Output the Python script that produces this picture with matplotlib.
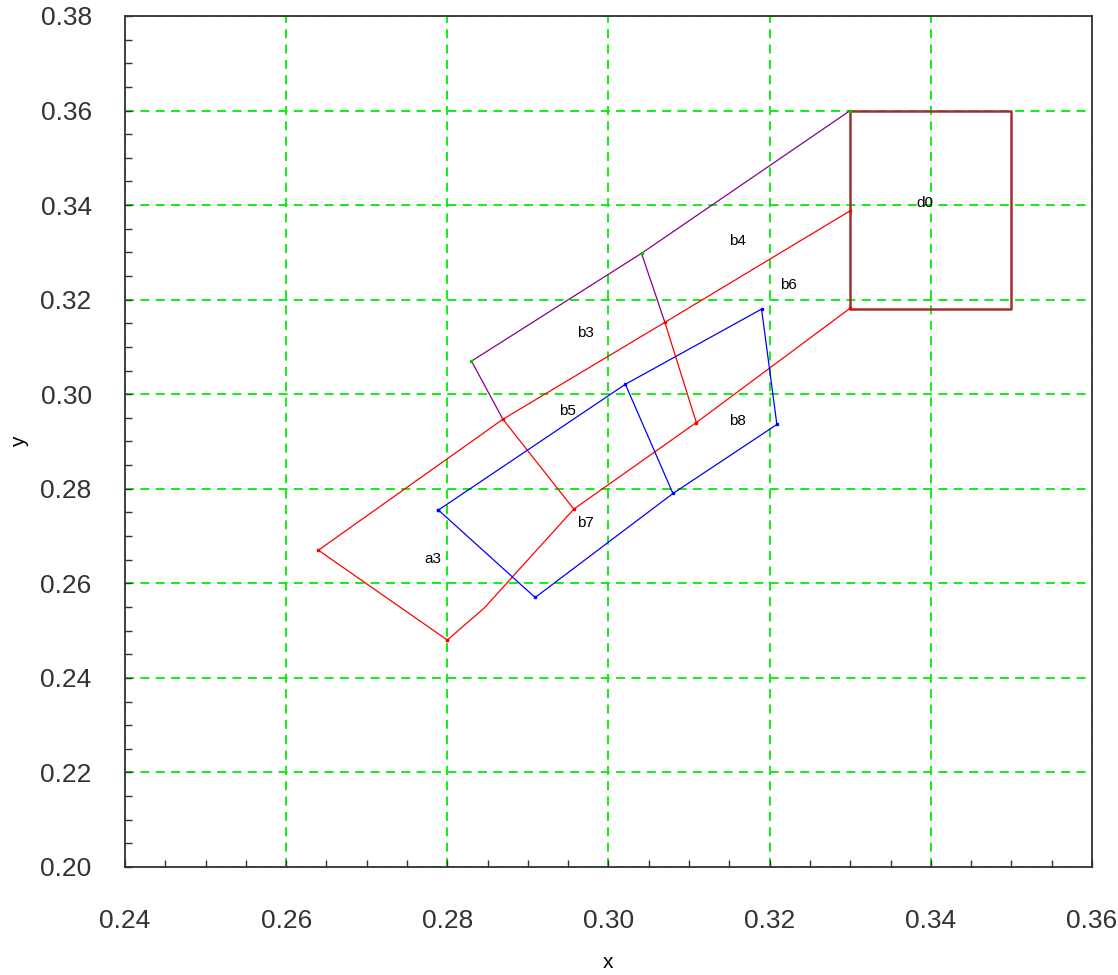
import numpy as np
import matplotlib.pyplot as plt
from matplotlib.ticker import MultipleLocator

# ---- data ----
# d0 box
d0_x = [0.330, 0.350, 0.350, 0.330, 0.330]
d0_y = [0.360, 0.360, 0.318, 0.318, 0.360]

# purple outline (top edge + cross line)
pur_x = [0.2869, 0.2830, 0.3041, 0.3300]
pur_y = [0.2947, 0.3070, 0.3298, 0.3600]
pur2_x = [0.3041, 0.3070]
pur2_y = [0.3298, 0.3152]

# red outline
red_top_x = [0.3300, 0.3070, 0.2869, 0.2640, 0.2800]
red_top_y = [0.3388, 0.3152, 0.2947, 0.2670, 0.2480]
red_bot_x = [0.2800, 0.2846, 0.2957, 0.3109, 0.3300]
red_bot_y = [0.2480, 0.2548, 0.2757, 0.2940, 0.3182]
red_c1_x = [0.3070, 0.3109]
red_c1_y = [0.3152, 0.2940]
red_c2_x = [0.2869, 0.2957]
red_c2_y = [0.2947, 0.2757]

# blue outline
blue_x = [0.2789, 0.3021, 0.3190, 0.3209, 0.3080, 0.2909, 0.2789]
blue_y = [0.2755, 0.3021, 0.3180, 0.2936, 0.2790, 0.2570, 0.2755]
blue_c_x = [0.3021, 0.3080]
blue_c_y = [0.3021, 0.2790]

# region labels
lab_txt = ["b3", "b4", "b5", "b6", "b7", "b8", "a3", "d0"]
lab_x = [0.2971, 0.3160, 0.2949, 0.3224, 0.2971, 0.3160, 0.2782, 0.3393]
lab_y = [0.3129, 0.3324, 0.2965, 0.3231, 0.2728, 0.2943, 0.2651, 0.3404]

plt.rcParams['font.family'] = ['Liberation Sans', 'DejaVu Sans']

fig = plt.figure(figsize=(11.18, 9.75), dpi=100)
ax = fig.add_axes([0.1118, 0.1108, 0.8649, 0.8728])

ax.grid(True, which='major', color='#00ee00', linestyle=(0, (5, 3.5)), linewidth=1.3)
ax.set_axisbelow(True)

lw = 0.9
ax.plot(d0_x, d0_y, color='#993333', lw=1.8)
ax.plot(pur_x, pur_y, color='#880088', lw=lw)
ax.plot(pur2_x, pur2_y, color='#880088', lw=lw)
for xs, ys in [(red_top_x, red_top_y), (red_bot_x, red_bot_y),
               (red_c1_x, red_c1_y), (red_c2_x, red_c2_y)]:
    ax.plot(xs, ys, color='#ff0000', lw=lw)
ax.plot(blue_x, blue_y, color='#0000ff', lw=lw)
ax.plot(blue_c_x, blue_c_y, color='#0000ff', lw=lw)

# small vertex dots
ax.plot(pur_x[1:], pur_y[1:], ls='none', marker='s', ms=2, color='#00cc00')
ax.plot(red_top_x, red_top_y, ls='none', marker='s', ms=2, color='#ff0000')
ax.plot([red_bot_x[i] for i in (0, 2, 3, 4)], [red_bot_y[i] for i in (0, 2, 3, 4)],
        ls='none', marker='s', ms=2, color='#ff0000')
ax.plot(blue_x, blue_y, ls='none', marker='s', ms=2, color='#0000ff')

for t, x, y in zip(lab_txt, lab_x, lab_y):
    ax.text(x, y, t, fontsize=11, ha='center', va='center', color='black')

ax.set_xlim(0.24, 0.36)
ax.set_ylim(0.20, 0.38)
ax.xaxis.set_major_locator(MultipleLocator(0.02))
ax.xaxis.set_minor_locator(MultipleLocator(0.005))
ax.yaxis.set_major_locator(MultipleLocator(0.02))
ax.yaxis.set_minor_locator(MultipleLocator(0.005))
ax.xaxis.set_major_formatter(plt.FormatStrFormatter('%.2f'))
ax.yaxis.set_major_formatter(plt.FormatStrFormatter('%.2f'))

ax.tick_params(which='both', direction='in', top=False, right=False,
               length=5, width=1, color='#333333')
ax.tick_params(axis='x', which='major', pad=30, labelsize=19, labelcolor='#333333')
ax.tick_params(axis='y', which='major', pad=24, labelsize=19, labelcolor='#333333')
for s in ax.spines.values():
    s.set_color('#333333')
    s.set_linewidth(1.3)

ax.set_xlabel('x', fontsize=15, labelpad=15)
ax.set_ylabel('y', fontsize=15, labelpad=8)

fig.savefig('out.png', dpi=100)
